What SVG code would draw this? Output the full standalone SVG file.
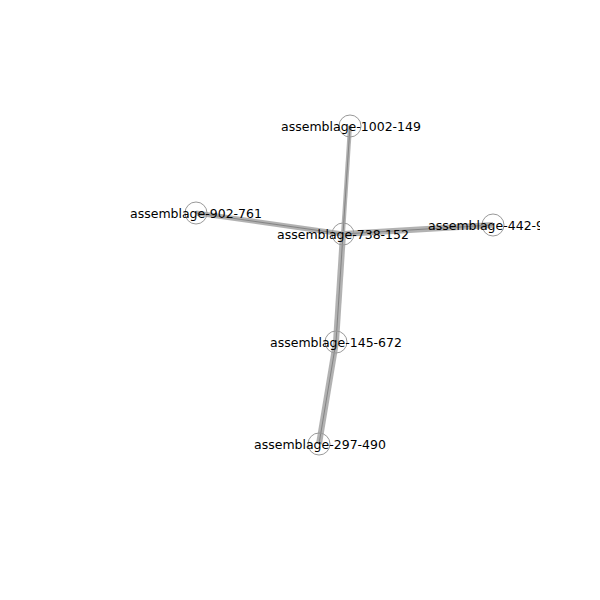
<svg xmlns="http://www.w3.org/2000/svg" width="600" height="600" viewBox="0 0 600 600">
<style>
.e{stroke:#aaa;stroke-opacity:0.9;stroke-linecap:butt;fill:none}
.c{stroke:#666;stroke-width:1;stroke-opacity:0.6;fill:none}
.n circle{fill:none;stroke:#999;stroke-width:1}
.n text{font-family:"DejaVu Sans",sans-serif;font-size:12.5px;fill:#000;text-anchor:middle;dominant-baseline:central}
</style>
<defs><clipPath id="clip"><rect x="60" y="60" width="480" height="480"/></clipPath></defs>
<rect width="600" height="600" fill="#fff"/>
<g id="connectors">
<line class="e" x1="343" y1="234" x2="350" y2="126" stroke-width="4"/>
<line class="c" x1="343" y1="234" x2="350" y2="126"/>
<line class="e" x1="343" y1="234" x2="196" y2="213" stroke-width="5"/>
<line class="c" x1="343" y1="234" x2="196" y2="213"/>
<line class="e" x1="343" y1="234" x2="493" y2="225" stroke-width="6"/>
<line class="c" x1="343" y1="234" x2="493" y2="225"/>
<line class="e" x1="343" y1="234" x2="336" y2="342" stroke-width="6"/>
<line class="c" x1="343" y1="234" x2="336" y2="342"/>
<line class="e" x1="336" y1="342" x2="319" y2="444" stroke-width="6"/>
<line class="c" x1="336" y1="342" x2="319" y2="444"/>
</g>
<g clip-path="url(#clip)">
<g id="n1002-149" class="n"><circle cx="350" cy="126" r="11"/><text x="351" y="126">assemblage-1002-149</text></g>
<g id="n738-152" class="n"><circle cx="343" cy="234" r="11"/><text x="343" y="234">assemblage-738-152</text></g>
<g id="n902-761" class="n"><circle cx="196" cy="213" r="11"/><text x="196" y="213">assemblage-902-761</text></g>
<g id="n442" class="n"><circle cx="493" cy="225" r="11"/><text x="428" y="225" style="text-anchor:start">assemblage-442-9</text></g>
<g id="n145-672" class="n"><circle cx="336" cy="342" r="11"/><text x="336" y="342">assemblage-145-672</text></g>
<g id="n297-490" class="n"><circle cx="319" cy="444" r="11"/><text x="320" y="444">assemblage-297-490</text></g>
</g>
</svg>
